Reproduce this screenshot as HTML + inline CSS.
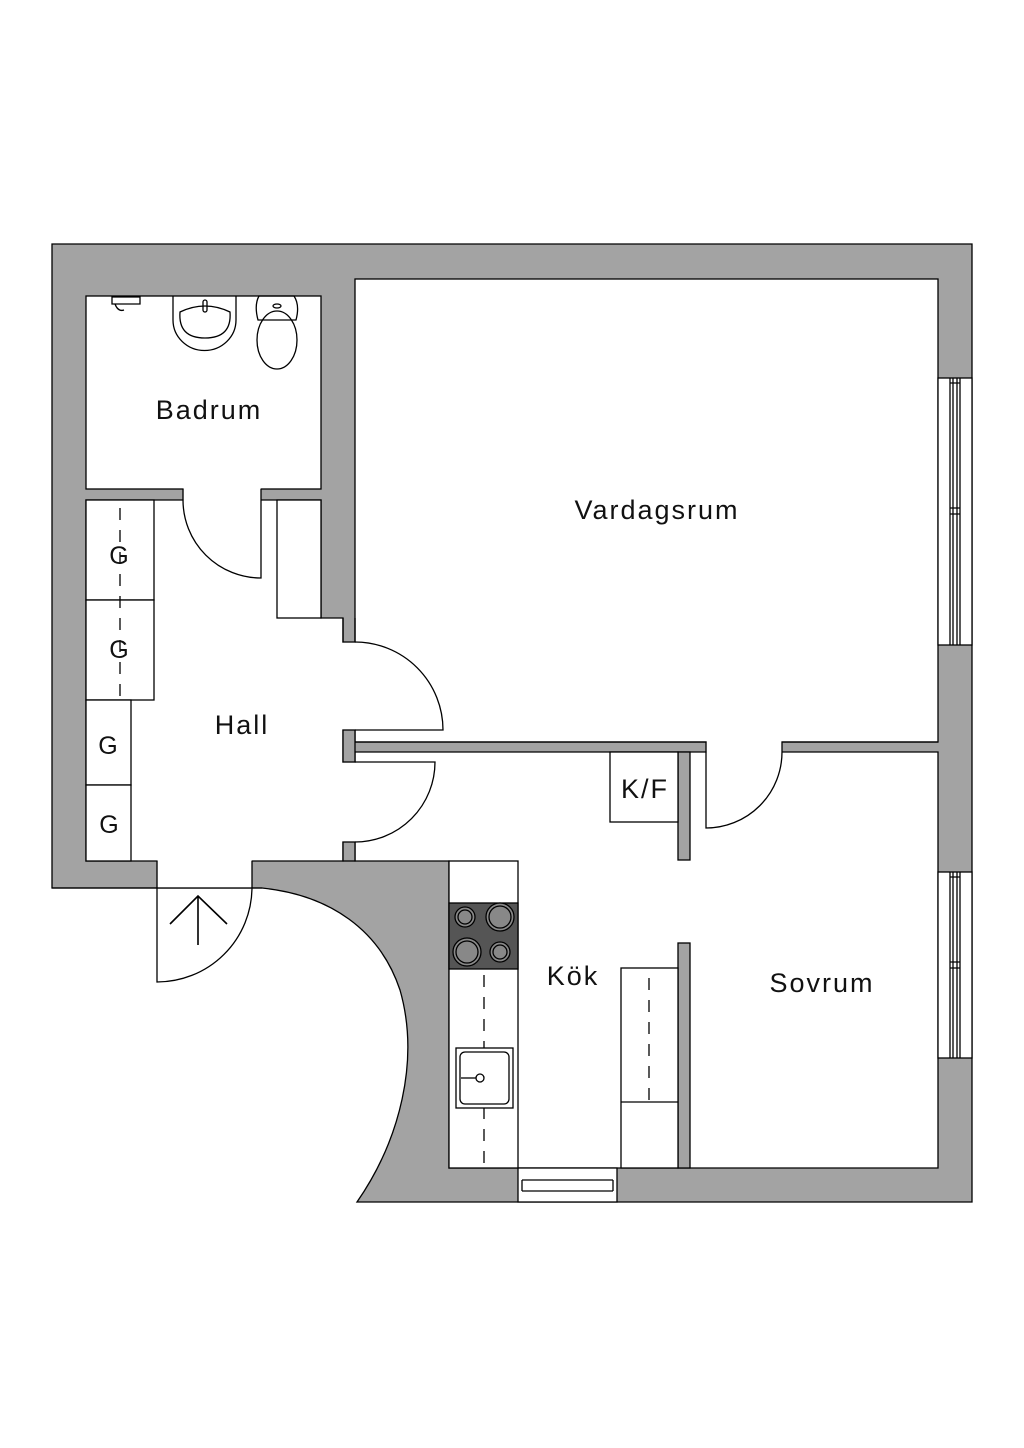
<!DOCTYPE html>
<html><head><meta charset="utf-8"><style>
html,body{margin:0;padding:0;background:#fff;width:1024px;height:1448px;overflow:hidden}
svg{display:block}
text{font-family:"Liberation Sans",sans-serif;fill:#111;letter-spacing:2px}
</style></head><body>
<svg width="1024" height="1448" viewBox="0 0 1024 1448" xmlns="http://www.w3.org/2000/svg">
<g stroke="#000" stroke-width="1.3">
<path d="M52,244 H972 V1202 H357 C400,1140 420,1060 400,990 C380,930 330,895 262,888 H52 Z" fill="#a3a3a3"/>
<rect x="86" y="296" width="235" height="193" fill="#fff"/>
<rect x="355" y="279" width="583" height="463" fill="#fff"/>
<path d="M86,500 H321 V618 H343 V861 H86 Z" fill="#fff"/>
<path d="M355,752 H938 V1168 H449 V861 H355 Z" fill="#fff"/>
</g>
<g fill="#fff">
<rect x="183.6" y="488" width="77" height="13"/>
<rect x="342" y="642.6" width="14" height="87"/>
<rect x="342" y="762.6" width="14" height="79"/>
<rect x="706.6" y="741" width="75" height="12"/>
<rect x="157.6" y="860" width="94" height="27.4"/>
<rect x="345" y="619" width="9" height="22" fill="#a3a3a3"/>
</g>
<g stroke="#000" stroke-width="1.3" fill="none">
<path d="M183,489 V500 M261,489 V500"/>
<rect x="343" y="730" width="12" height="32" fill="#a3a3a3"/>
<rect x="343" y="842" width="12" height="19" fill="#a3a3a3"/>
<path d="M343,618 V642 H355 V618"/>
<path d="M355,742 H706 V752 M782,752 V742 H938"/>
<path d="M157,861 V888 M252,861 V888 M52,888 H262"/>
<rect x="678" y="752" width="12" height="108" fill="#a3a3a3"/>
<rect x="678" y="943" width="12" height="225" fill="#a3a3a3"/>
<path d="M261,500 V578 A78,78 0 0 1 183,500"/>
<path d="M355,642 A88,88 0 0 1 443,730 H355"/>
<path d="M355,762 H435 A80,80 0 0 1 355,842"/>
<path d="M706,752 V828 A76,76 0 0 0 782,752"/>
<path d="M157,888 V982 A95,95 0 0 0 252,888"/>
<path d="M198,945 V896 M170,924 L198,896 L227,924" stroke-width="1.6"/>
<rect x="86" y="500" width="68" height="100" fill="#fff"/>
<rect x="86" y="600" width="68" height="100" fill="#fff"/>
<rect x="86" y="700" width="45" height="85" fill="#fff"/>
<rect x="86" y="785" width="45" height="76" fill="#fff"/>
<rect x="277" y="500" width="44" height="118" fill="#fff"/>
<path d="M120,508 V700" stroke-dasharray="12,10"/>
<rect x="610" y="752" width="68" height="70" fill="#fff"/>
<rect x="938" y="378" width="34" height="267" fill="#fff"/>
<path d="M950,378 V645 M953,378 V645 M957,378 V645 M960,378 V645 M950,383 H960 M950,508 H960 M950,514 H960"/>
<rect x="938" y="872" width="34" height="186" fill="#fff"/>
<path d="M950,872 V1058 M953,872 V1058 M957,872 V1058 M960,872 V1058 M950,877 H960 M950,962 H960 M950,968 H960"/>
<rect x="518" y="1168" width="99" height="34" fill="#fff"/>
<path d="M522,1180 H613 M522,1191 H613 M522,1180 V1191 M613,1180 V1191"/>
<rect x="449" y="861" width="69" height="307" fill="#fff"/>
<rect x="449" y="903" width="69" height="66" fill="#555"/>
<circle cx="465" cy="917" r="10" fill="#888"/><circle cx="465" cy="917" r="7"/>
<circle cx="500" cy="917" r="14" fill="#888"/><circle cx="500" cy="917" r="11"/>
<circle cx="467" cy="952" r="14" fill="#888"/><circle cx="467" cy="952" r="11"/>
<circle cx="500" cy="952" r="10" fill="#888"/><circle cx="500" cy="952" r="7"/>
<path d="M484,975 V1165" stroke-dasharray="12,10"/>
<rect x="456" y="1048" width="57" height="60" fill="#fff"/>
<rect x="460" y="1052" width="49" height="52" rx="5" fill="#fff"/>
<circle cx="480" cy="1078" r="4"/><path d="M461,1078 H476"/>
<rect x="621" y="968" width="57" height="200" fill="#fff"/>
<path d="M621,1102 H678"/>
<path d="M649,978 V1100" stroke-dasharray="12,10"/>
<path d="M173,296 V320 A31,30 0 0 0 236,320 V296"/>
<path d="M180,312 Q205,300 230,312 Q232,338 205,338 Q178,338 180,312 Z"/>
<rect x="203" y="300" width="4" height="12" rx="2"/>
<path d="M259,296 H294 Q300,305 296,320 H258 Q254,305 259,296 Z"/>
<ellipse cx="277" cy="340" rx="20" ry="29"/>
<ellipse cx="277" cy="306" rx="4" ry="2"/>
<path d="M112,297 H140 V304 H112 Z M115,304 Q118,312 124,310"/>
</g>
<text x="209" y="419" font-size="27" text-anchor="middle">Badrum</text>
<text x="657" y="519" font-size="27" text-anchor="middle">Vardagsrum</text>
<text x="242" y="734" font-size="27" text-anchor="middle">Hall</text>
<text x="573" y="985" font-size="27" text-anchor="middle">Kök</text>
<text x="822" y="992" font-size="27" text-anchor="middle">Sovrum</text>
<text x="645" y="798" font-size="27" text-anchor="middle">K/F</text>
<text x="120" y="564" font-size="25" text-anchor="middle">G</text>
<text x="120" y="658" font-size="25" text-anchor="middle">G</text>
<text x="109" y="754" font-size="25" text-anchor="middle">G</text>
<text x="110" y="833" font-size="25" text-anchor="middle">G</text>
</svg>
</body></html>
